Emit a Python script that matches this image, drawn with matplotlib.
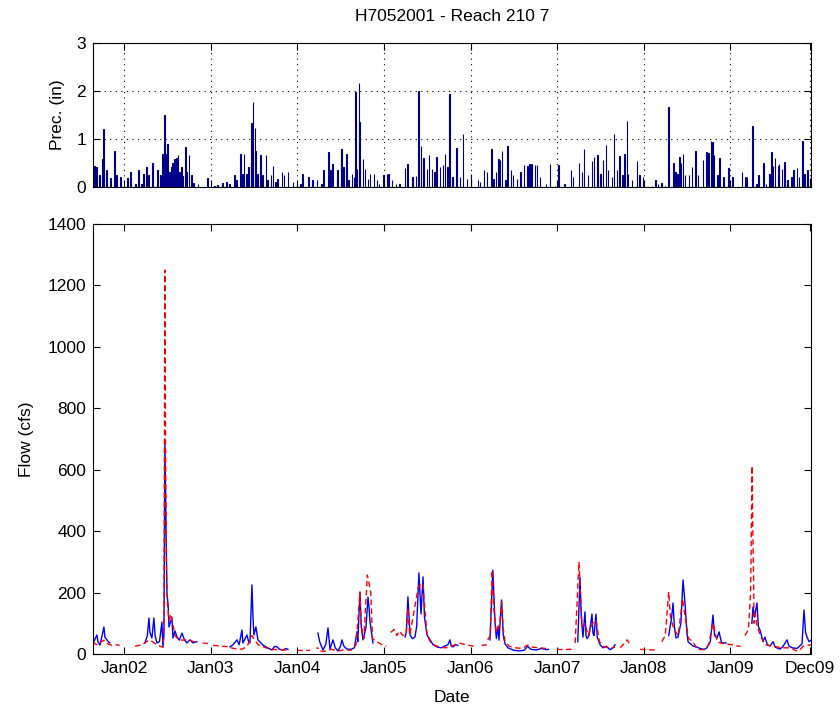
import numpy as np
import pandas as pd
import matplotlib
matplotlib.use("Agg")
import matplotlib.pyplot as plt
import matplotlib.dates as mdates

plt.rcParams['font.family'] = ['Liberation Sans', 'DejaVu Sans']

# fechas en anos decimales
prec = [(2001.665, 0.43), (2001.688, 0.42), (2001.723, 0.24), (2001.758, 0.58), (2001.769, 1.20),
        (2001.804, 0.35), (2001.850, 0.19), (2001.896, 0.74), (2001.919, 0.24), (2001.965, 0.21),
        (2002.046, 0.19), (2002.081, 0.31), (2002.139, 0.07), (2002.173, 0.35), (2002.208, 0.07),
        (2002.231, 0.28), (2002.266, 0.42), (2002.289, 0.24), (2002.335, 0.50), (2002.393, 0.36),
        (2002.427, 0.24), (2002.450, 0.69), (2002.473, 1.49), (2002.485, 0.69), (2002.508, 0.90),
        (2002.531, 0.31), (2002.554, 0.42), (2002.566, 0.49), (2002.589, 0.59), (2002.612, 0.61),
        (2002.624, 0.66), (2002.647, 0.31), (2002.670, 0.42), (2002.681, 0.22), (2002.716, 0.83),
        (2002.727, 0.31), (2002.751, 0.66), (2002.785, 0.24), (2002.808, 0.08), (2002.855, 0.07),
        (2002.970, 0.19), (2003.051, 0.03), (2003.085, 0.05), (2003.143, 0.08), (2003.189, 0.10),
        (2003.224, 0.07), (2003.282, 0.24), (2003.305, 0.14), (2003.351, 0.69), (2003.374, 0.28),
        (2003.386, 0.68), (2003.420, 0.28), (2003.443, 0.42), (2003.467, 0.49), (2003.478, 1.33),
        (2003.490, 1.77), (2003.513, 1.22), (2003.524, 0.76), (2003.547, 0.28), (2003.582, 0.67),
        (2003.605, 0.24), (2003.640, 0.67), (2003.663, 0.14), (2003.698, 0.24), (2003.721, 0.43),
        (2003.755, 0.10), (2003.778, 0.17), (2003.825, 0.31), (2003.848, 0.24), (2003.894, 0.31),
        (2003.952, 0.10), (2003.998, 0.07), (2004.044, 0.07), (2004.067, 0.28), (2004.136, 0.21),
        (2004.182, 0.15), (2004.229, 0.14), (2004.286, 0.07), (2004.309, 0.36), (2004.367, 0.72),
        (2004.390, 0.35), (2004.413, 0.47), (2004.460, 0.14), (2004.471, 0.35), (2004.506, 0.58),
        (2004.517, 0.80), (2004.540, 0.42), (2004.575, 0.68), (2004.598, 0.14), (2004.633, 0.28),
        (2004.656, 0.21), (2004.679, 1.98), (2004.691, 0.38), (2004.714, 2.17), (2004.725, 1.35),
        (2004.760, 0.58), (2004.783, 0.38), (2004.818, 0.17), (2004.841, 0.28), (2004.887, 0.28),
        (2004.922, 0.14), (2004.945, 0.07), (2005.002, 0.24), (2005.037, 0.28), (2005.060, 0.28),
        (2005.095, 0.14), (2005.141, 0.07), (2005.187, 0.06), (2005.245, 0.40), (2005.279, 0.47),
        (2005.337, 0.21), (2005.372, 0.22), (2005.406, 2.00), (2005.430, 0.85), (2005.453, 0.59),
        (2005.464, 0.61), (2005.499, 0.38), (2005.522, 0.66), (2005.557, 0.38), (2005.591, 0.31),
        (2005.614, 0.62), (2005.649, 0.42), (2005.684, 0.45), (2005.707, 0.69), (2005.741, 0.42),
        (2005.764, 1.94), (2005.799, 0.21), (2005.845, 0.82), (2005.880, 0.21), (2005.915, 1.11),
        (2005.961, 0.17), (2006.007, 0.28), (2006.088, 0.14), (2006.111, 0.10), (2006.157, 0.35),
        (2006.192, 0.31), (2006.249, 0.80), (2006.272, 0.17), (2006.296, 0.31), (2006.330, 0.59),
        (2006.342, 0.56), (2006.365, 0.76), (2006.400, 0.14), (2006.434, 0.85), (2006.469, 0.35),
        (2006.492, 0.24), (2006.538, 0.17), (2006.584, 0.31), (2006.619, 0.45), (2006.654, 0.43),
        (2006.688, 0.47), (2006.711, 0.47), (2006.746, 0.45), (2006.769, 0.45), (2006.804, 0.21),
        (2006.873, 0.07), (2006.919, 0.47), (2006.977, 0.03), (2007.012, 0.45), (2007.092, 0.07),
        (2007.162, 0.35), (2007.185, 0.21), (2007.254, 0.49), (2007.289, 0.31), (2007.312, 0.80),
        (2007.358, 0.24), (2007.404, 0.54), (2007.427, 0.62), (2007.473, 0.66), (2007.497, 0.28),
        (2007.531, 0.56), (2007.566, 0.87), (2007.589, 0.35), (2007.635, 0.21), (2007.658, 1.11),
        (2007.693, 0.35), (2007.727, 0.64), (2007.751, 0.24), (2007.774, 0.69), (2007.808, 1.37),
        (2007.820, 0.28), (2007.866, 0.14), (2007.924, 0.54), (2007.958, 0.24), (2007.993, 0.21),
        (2008.097, 0.03), (2008.132, 0.15), (2008.166, 0.06), (2008.212, 0.08), (2008.247, 0.03),
        (2008.282, 1.67), (2008.293, 0.35), (2008.340, 0.50), (2008.363, 0.31), (2008.386, 0.28),
        (2008.409, 0.62), (2008.432, 0.49), (2008.455, 0.68), (2008.478, 0.24), (2008.524, 0.24),
        (2008.559, 0.42), (2008.594, 0.74), (2008.628, 0.24), (2008.686, 0.57), (2008.721, 0.72),
        (2008.744, 0.71), (2008.778, 0.95), (2008.790, 0.94), (2008.813, 0.66), (2008.848, 0.24),
        (2008.871, 0.61), (2008.917, 0.21), (2008.975, 0.40), (2009.021, 0.21), (2009.136, 0.31),
        (2009.171, 0.21), (2009.194, 0.21), (2009.252, 1.28), (2009.263, 0.38), (2009.298, 0.07),
        (2009.332, 0.26), (2009.379, 0.49), (2009.413, 0.07), (2009.459, 0.28), (2009.482, 0.73),
        (2009.494, 0.43), (2009.517, 0.61), (2009.552, 0.43), (2009.563, 0.47), (2009.598, 0.38),
        (2009.632, 0.52), (2009.656, 0.14), (2009.713, 0.21), (2009.736, 0.35), (2009.771, 0.40),
        (2009.794, 0.21), (2009.829, 0.43), (2009.840, 0.95), (2009.863, 0.28), (2009.887, 0.36),
        (2009.921, 0.19)]

nan = np.nan
# caudal simulado (linea azul)
sim = [(2001.642, 36), (2001.66, 45), (2001.688, 62), (2001.70, 40), (2001.723, 29), (2001.74, 50),
       (2001.769, 88), (2001.78, 55), (2001.804, 46), (2001.82, 40), (2001.838, 36), (2001.84, nan),
       (2002.242, 36), (2002.27, 60), (2002.289, 117), (2002.30, 70), (2002.323, 52), (2002.346, 117),
       (2002.36, 60), (2002.381, 36), (2002.41, 40), (2002.439, 104), (2002.450, 23), (2002.462, 60),
       (2002.473, 690), (2002.485, 426), (2002.497, 199), (2002.51, 160), (2002.520, 88), (2002.554, 120),
       (2002.566, 52), (2002.59, 75), (2002.612, 55), (2002.64, 45), (2002.670, 68), (2002.70, 45),
       (2002.727, 36), (2002.762, 46), (2002.797, 36), (2002.843, 40), (2002.85, nan),
       (2003.224, 23), (2003.26, 30), (2003.305, 46), (2003.33, 30), (2003.363, 78), (2003.374, 36),
       (2003.40, 50), (2003.420, 62), (2003.44, 40), (2003.455, 36), (2003.478, 225), (2003.49, 120),
       (2003.501, 62), (2003.524, 88), (2003.547, 46), (2003.605, 29), (2003.66, 20), (2003.709, 13),
       (2003.74, 25), (2003.767, 23), (2003.80, 15), (2003.836, 13), (2003.87, 18), (2003.894, 15),
       (2003.90, nan),
       (2004.240, 68), (2004.26, 40), (2004.298, 13), (2004.33, 30), (2004.356, 85), (2004.379, 16),
       (2004.413, 46), (2004.44, 20), (2004.471, 10), (2004.50, 25), (2004.517, 46), (2004.54, 25),
       (2004.575, 16), (2004.62, 15), (2004.66, 20), (2004.691, 72), (2004.70, 40), (2004.725, 202),
       (2004.74, 90), (2004.760, 46), (2004.794, 85), (2004.818, 185), (2004.83, 150), (2004.841, 105),
       (2004.875, 36), (2004.88, nan),
       (2005.245, 55), (2005.26, 70), (2005.279, 186), (2005.303, 62), (2005.33, 50), (2005.360, 55),
       (2005.38, 90), (2005.406, 264), (2005.430, 130), (2005.453, 251), (2005.47, 120), (2005.499, 62),
       (2005.534, 46), (2005.57, 30), (2005.614, 23), (2005.66, 20), (2005.70, 25), (2005.74, 30),
       (2005.764, 46), (2005.78, 25), (2005.799, 23), (2005.83, 30), (2005.857, 28), (2005.86, nan),
       (2006.226, 46), (2006.26, 273), (2006.284, 105), (2006.30, 50), (2006.32, 90), (2006.33, 45),
       (2006.36, 176), (2006.38, 60), (2006.400, 33), (2006.434, 20), (2006.50, 12), (2006.56, 10),
       (2006.62, 12), (2006.66, 25), (2006.70, 15), (2006.76, 13), (2006.82, 18), (2006.88, 14),
       (2006.90, 15), (2006.91, nan),
       (2007.24, 40), (2007.266, 250), (2007.28, 120), (2007.300, 55), (2007.323, 137), (2007.335, 60),
       (2007.346, 50), (2007.37, 60), (2007.404, 130), (2007.415, 68), (2007.427, 60), (2007.450, 130),
       (2007.465, 55), (2007.497, 30), (2007.531, 20), (2007.57, 25), (2007.612, 14), (2007.647, 20),
       (2007.67, 30), (2007.68, nan),
       (2008.29, 60), (2008.305, 88), (2008.320, 110), (2008.340, 166), (2008.355, 90), (2008.374, 52),
       (2008.397, 55), (2008.43, 100), (2008.455, 241), (2008.478, 166), (2008.50, 70), (2008.513, 40),
       (2008.570, 26), (2008.62, 22), (2008.651, 18), (2008.70, 15), (2008.732, 20), (2008.770, 40),
       (2008.801, 127), (2008.82, 60), (2008.848, 52), (2008.871, 72), (2008.90, 36), (2008.952, 36),
       (2008.96, nan),
       (2009.25, 100), (2009.263, 153), (2009.28, 120), (2009.309, 166), (2009.325, 90), (2009.344, 78),
       (2009.379, 40), (2009.40, 55), (2009.43, 30), (2009.460, 26), (2009.494, 40), (2009.52, 22),
       (2009.575, 16), (2009.61, 25), (2009.656, 46), (2009.68, 25), (2009.72, 20), (2009.771, 18),
       (2009.80, 25), (2009.829, 33), (2009.852, 143), (2009.87, 70), (2009.887, 55), (2009.91, 40),
       (2009.933, 45)]

# caudal observado (linea roja discontinua)
obs = [(2001.642, 40), (2001.67, 32), (2001.70, 30), (2001.74, 40), (2001.77, 45), (2001.80, 35),
       (2001.84, 30), (2001.88, 28), (2001.92, 30), (2001.95, 28), (2001.96, nan),
       (2002.127, 25), (2002.17, 28), (2002.21, 30), (2002.25, 38), (2002.29, 45), (2002.33, 40),
       (2002.38, 30), (2002.42, 25), (2002.45, 22), (2002.462, 80), (2002.473, 1250), (2002.480, 700),
       (2002.490, 300), (2002.50, 170), (2002.52, 110), (2002.54, 130), (2002.554, 107), (2002.57, 90),
       (2002.59, 60), (2002.62, 50), (2002.67, 45), (2002.73, 46), (2002.76, 46), (2002.80, 40),
       (2002.84, 38), (2002.85, nan), (2002.91, 36), (2002.97, 34), (2002.98, nan),
       (2003.03, 28), (2003.10, 26), (2003.19, 24), (2003.24, 20), (2003.30, 16), (2003.37, 16),
       (2003.42, 25), (2003.46, 45), (2003.478, 60), (2003.50, 50), (2003.55, 30), (2003.62, 22),
       (2003.70, 15), (2003.80, 14), (2003.89, 12), (2003.91, nan),
       (2004.00, 12), (2004.08, 11), (2004.15, 12), (2004.16, nan), (2004.22, 20), (2004.25, 18),
       (2004.26, nan),
       (2004.27, 10), (2004.30, 8), (2004.35, 12), (2004.40, 15), (2004.47, 10), (2004.55, 14),
       (2004.62, 12), (2004.68, 30), (2004.725, 200), (2004.74, 90), (2004.77, 50), (2004.81, 257),
       (2004.83, 230), (2004.85, 200), (2004.87, 50), (2004.92, 40), (2004.98, 30), (2005.03, 25),
       (2005.04, nan),
       (2005.08, 70), (2005.12, 80), (2005.15, 60), (2005.18, 75), (2005.22, 60), (2005.26, 70),
       (2005.28, 150), (2005.30, 60), (2005.40, 220), (2005.45, 230), (2005.50, 60), (2005.55, 33),
       (2005.62, 25), (2005.70, 20), (2005.76, 22), (2005.82, 30), (2005.88, 35), (2005.95, 30),
       (2006.04, 25), (2006.05, nan), (2006.13, 28), (2006.19, 30), (2006.195, nan),
       (2006.20, 46), (2006.23, 60), (2006.25, 273), (2006.27, 150), (2006.30, 70), (2006.34, 100),
       (2006.36, 170), (2006.38, 80), (2006.40, 40), (2006.45, 25), (2006.52, 20), (2006.60, 18),
       (2006.66, 29), (2006.72, 22), (2006.80, 20), (2006.90, 17), (2006.95, nan),
       (2007.00, 15), (2007.08, 14), (2007.185, 16), (2007.20, nan),
       (2007.21, 36), (2007.254, 300), (2007.27, 200), (2007.29, 90), (2007.32, 100), (2007.36, 60),
       (2007.41, 100), (2007.45, 110), (2007.49, 40), (2007.53, 25), (2007.60, 20), (2007.67, 22),
       (2007.70, nan), (2007.73, 20), (2007.78, 35), (2007.81, 46), (2007.84, 30), (2007.90, nan),
       (2007.96, 15), (2008.05, 14), (2008.17, 12), (2008.19, nan),
       (2008.21, 40), (2008.25, 60), (2008.29, 202), (2008.31, 120), (2008.35, 80), (2008.40, 60),
       (2008.45, 180), (2008.48, 120), (2008.52, 50), (2008.57, 40), (2008.62, 15), (2008.70, 14),
       (2008.75, 30), (2008.80, 100), (2008.85, 40), (2008.90, 35), (2008.95, 33), (2009.02, 30),
       (2009.08, 26), (2009.12, 25), (2009.14, nan),
       (2009.17, 60), (2009.21, 80), (2009.235, 200), (2009.24, 300), (2009.252, 612), (2009.262, 380),
       (2009.27, 250), (2009.275, 100), (2009.29, 130), (2009.31, 90), (2009.35, 60), (2009.40, 30),
       (2009.50, 25), (2009.60, 20), (2009.70, 20), (2009.76, 10), (2009.80, 12), (2009.84, 25),
       (2009.90, 28), (2009.933, 30)]

tick_labels = ["Jan02", "Jan03", "Jan04", "Jan05", "Jan06", "Jan07", "Jan08", "Jan09", "Dec09"]
tick_dates = ["2002-01-01", "2003-01-01", "2004-01-01", "2005-01-01", "2006-01-01",
              "2007-01-01", "2008-01-01", "2009-01-01", "2009-12-01"]


def a_fecha(anos):
    # ano decimal -> numero de fecha de matplotlib
    anos = np.asarray(anos, dtype=float)
    fechas = pd.Timestamp("2000-01-01") + pd.to_timedelta((anos - 2000) * 365.25, unit="D")
    return mdates.date2num(fechas.to_pydatetime())


p_x, p_y = zip(*prec)
s_x, s_y = zip(*sim)
o_x, o_y = zip(*obs)

fs = 12.5
fig = plt.figure(figsize=(8.4, 7.08), dpi=100)
ax1 = fig.add_axes([0.1107, 0.7359, 0.8548, 0.2034])
ax2 = fig.add_axes([0.1107, 0.0763, 0.8548, 0.6073])

xmin = mdates.date2num(pd.Timestamp("2001-08-23"))
xmax = mdates.date2num(pd.Timestamp("2009-12-07"))
ticks = mdates.date2num(pd.to_datetime(tick_dates).to_pydatetime())

# precipitacion
ax1.bar(a_fecha(p_x), p_y, width=4.0, color="#00008B", edgecolor="#00008B", linewidth=0.8)
ax1.set_ylim(0, 3)
ax1.set_yticks([0, 1, 2, 3])
ax1.set_xlim(xmin, xmax)
ax1.set_xticks(ticks)
ax1.set_xticklabels([])
ax1.grid(True, linestyle=(0, (1, 4)), color="black", linewidth=0.8)
ax1.set_ylabel("Prec. (in)", fontsize=fs, labelpad=8)
ax1.set_title("H7052001 - Reach 210 7", fontsize=fs, pad=16)

# caudal
ax2.plot(a_fecha(s_x), s_y, color="blue", linewidth=1.0)
ax2.plot(a_fecha(o_x), o_y, color="red", linestyle="--", dashes=(4, 2.5), linewidth=1.0)
ax2.set_ylim(0, 1400)
ax2.set_yticks(range(0, 1401, 200))
ax2.set_xlim(xmin, xmax)
ax2.set_xticks(ticks)
ax2.set_xticklabels(tick_labels)
ax2.set_xlabel("Date", fontsize=fs, labelpad=10)
ax2.set_ylabel("Flow (cfs)", fontsize=fs, labelpad=10)

for ax in (ax1, ax2):
    ax.tick_params(direction="in", top=True, right=True, labelsize=fs, length=5, pad=5)
    for s in ax.spines.values():
        s.set_linewidth(0.8)

fig.savefig("out.png", dpi=100)
